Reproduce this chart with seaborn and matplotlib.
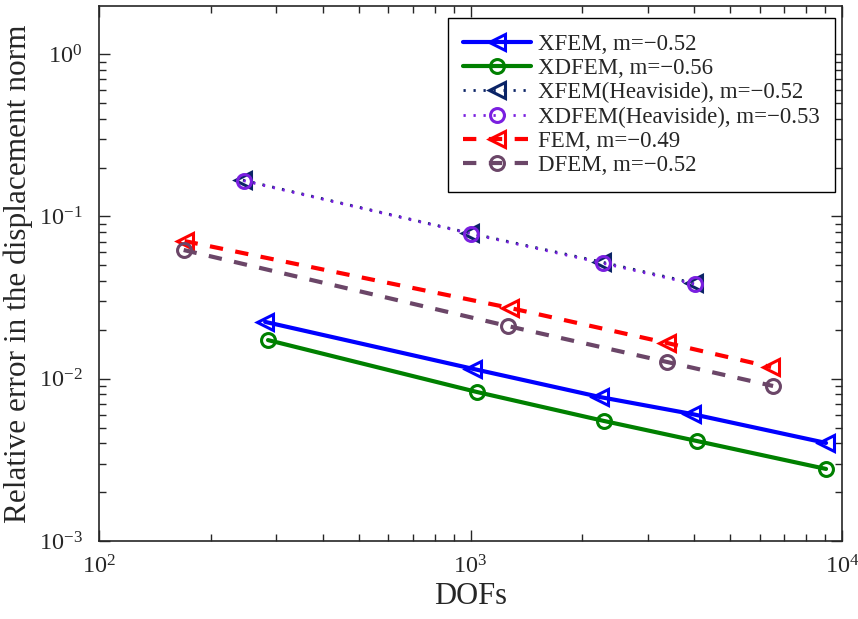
import matplotlib
matplotlib.use("Agg")
import matplotlib.pyplot as plt
import seaborn as sns
from matplotlib.ticker import LogLocator

# DOFs and relative errors
xfem_dofs = [280, 1016, 2232, 3947, 9056]
xfem_err = [0.0224, 0.0115, 0.00771, 0.00606, 0.00402]
xdfem_dofs = [285, 1041, 2288, 4071, 9056]
xdfem_err = [0.0173, 0.00828, 0.00549, 0.00413, 0.00278]
xfem_h_dofs = [244, 997, 2259, 3996]
xfem_h_err = [0.1674, 0.0789, 0.0523, 0.0388]
xdfem_h_dofs = [245, 1003, 2270, 4020]
xdfem_h_err = [0.166, 0.0782, 0.0515, 0.0382]
fem_dofs = [170, 1277, 3381, 6441]
fem_err = [0.0705, 0.0273, 0.0166, 0.0118]
dfem_dofs = [169, 1262, 3381, 6522]
dfem_err = [0.0621, 0.0211, 0.01268, 0.00902]

labels = ["XFEM, m=\u22120.52", "XDFEM, m=\u22120.56",
          "XFEM(Heaviside), m=\u22120.52", "XDFEM(Heaviside), m=\u22120.53",
          "FEM, m=\u22120.49", "DFEM, m=\u22120.52"]

sns.set_style("ticks")
plt.rcParams["font.family"] = ["Liberation Serif", "DejaVu Serif"]
plt.rcParams["mathtext.fontset"] = "stix"

fig = plt.figure(figsize=(8.58, 6.19), dpi=100)
ax = fig.add_axes([0.1154, 0.126, 0.866, 0.8643])

dotted = (0, (0.8, 2.8))
dashed = (0, (3.2, 3.0))
series = [
    (xfem_dofs, xfem_err, "#0000ff", "-", "<", 12, 3.0),
    (xdfem_dofs, xdfem_err, "#008000", "-", "o", 10, 3.0),
    (xfem_h_dofs, xfem_h_err, "#0b2466", dotted, "<", 12, 2.0),
    (xdfem_h_dofs, xdfem_h_err, "#7a1fe0", dotted, "o", 10, 2.0),
    (fem_dofs, fem_err, "#ff0000", dashed, "<", 12, 3.0),
    (dfem_dofs, dfem_err, "#6b4668", dashed, "o", 10, 3.0),
]

for (x, y, c, ls, mk, ms, lw), lab in zip(series, labels):
    sns.lineplot(x=x, y=y, ax=ax, color=c, linestyle=ls, linewidth=lw,
                 marker=mk, markersize=ms, markerfacecolor="none",
                 mec=c, mew=2.2, label=lab)

ax.set_xscale("log")
ax.set_yscale("log")
ax.set_xlim(1e2, 1e4)
ax.set_ylim(1e-3, 1.98)
ax.xaxis.set_minor_locator(LogLocator(base=10, subs=range(2, 10)))
ax.yaxis.set_minor_locator(LogLocator(base=10, subs=range(2, 10)))

ax.tick_params(which="both", direction="in", top=True, right=True,
               labelsize=17.5, width=1)
ax.tick_params(which="major", length=8)
ax.tick_params(which="minor", length=5)
ax.tick_params(axis="y", which="major", pad=12)
ax.tick_params(axis="x", which="major", pad=10)
for s in ax.spines.values():
    s.set_linewidth(1.2)

ax.set_xlabel("DOFs", fontsize=22, labelpad=3)
ax.set_ylabel("Relative error in the displacement norm", fontsize=22.5, labelpad=4)

leg = ax.legend(loc="upper right", bbox_to_anchor=(0.9906, 0.9776),
                borderaxespad=0, fontsize=16.5, frameon=True, fancybox=False,
                edgecolor="black", handlelength=2.95, labelspacing=0.14,
                handletextpad=0.3, borderpad=0.68)
leg.get_frame().set_linewidth(1.0)
leg.get_frame().set_alpha(1)

fig.savefig("out.png", dpi=100)
